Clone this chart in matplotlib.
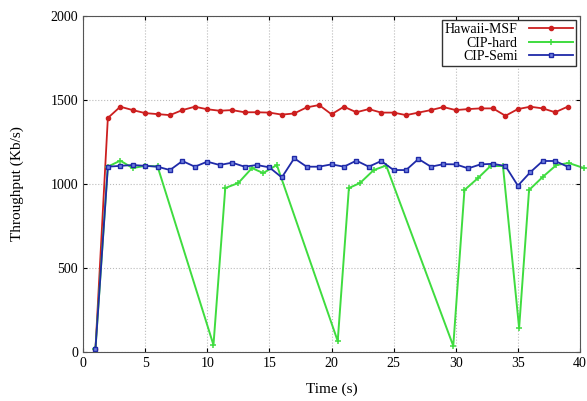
import numpy as np
import matplotlib
matplotlib.use('Agg')
import matplotlib.pyplot as plt

plt.rcParams['font.family'] = ['Liberation Serif', 'DejaVu Serif']

# sample times (s)
t = np.arange(1, 40)

# Hawaii-MSF throughput (Kb/s)
msf = [15, 1393, 1460, 1440, 1422, 1416, 1410, 1440, 1460, 1445,
       1436, 1440, 1427, 1427, 1425, 1413, 1420, 1456, 1470, 1415,
       1460, 1427, 1446, 1425, 1425, 1410, 1425, 1440, 1458, 1440,
       1446, 1450, 1450, 1406, 1446, 1460, 1450, 1427, 1460]

# CIP-Semi throughput (Kb/s)
semi = [15, 1103, 1108, 1113, 1108, 1103, 1083, 1137, 1103, 1133,
        1113, 1127, 1103, 1113, 1099, 1039, 1153, 1103, 1103, 1117,
        1103, 1139, 1103, 1137, 1083, 1083, 1149, 1103, 1118, 1117,
        1093, 1117, 1120, 1107, 990, 1070, 1137, 1137, 1103]

# CIP-hard: irregular sample times
t_hard = [1, 2, 3, 4, 5, 6, 10.5, 11.45, 12.5, 13.6, 14.5, 15.6,
          20.5, 21.4, 22.3, 23.4, 24.4, 29.8, 30.7, 31.8, 32.8, 33.8,
          35.1, 35.9, 37.0, 38.1, 39.1, 40.3]
hard = [15, 1103, 1139, 1095, 1108, 1105, 42, 976, 1006, 1095, 1065, 1113,
        65, 976, 1006, 1083, 1110, 36, 964, 1036, 1107, 1107,
        143, 964, 1042, 1113, 1125, 1095]

fig = plt.figure(figsize=(5.87, 4.01), dpi=100)
ax = fig.add_axes([83/587, 1-352/401, (580-83)/587, (352-16)/401])

ax.plot(t, msf, '-o', color='#cc1f1f', ms=3, lw=1.3, label='Hawaii-MSF')
ax.plot(t_hard, hard, '-+', color='#3fdc3f', ms=4.5, mew=1.1, lw=1.4,
        label='CIP-hard', clip_on=False)
ax.plot(t, semi, '-s', color='#1f2aa8', ms=3.5, mfc='#6f7fe0', mew=1.0, lw=1.3,
        label='CIP-Semi')

ax.set_xlim(0, 40)
ax.set_ylim(0, 2000)
ax.set_xticks(range(0, 41, 5))
ax.set_yticks(range(0, 2001, 500))
ax.grid(True, linestyle=':', color='#bbbbbb', lw=0.8)
ax.tick_params(direction='in', top=True, right=True, labelsize=10, length=3)
for s in ax.spines.values():
    s.set_color('#555555')

ax.set_xlabel('Time (s)', fontsize=11)
ax.set_ylabel('Throughput (Kb/s)', fontsize=11)
ax.yaxis.set_label_coords(-0.118, 0.5)
ax.xaxis.set_label_coords(0.5, -0.09)

leg = ax.legend(loc='upper right', markerfirst=False, fontsize=10, fancybox=False,
                framealpha=1, edgecolor='#333333', borderpad=0.2,
                labelspacing=0.05, handlelength=3.2, borderaxespad=0.3)
leg.get_frame().set_linewidth(1.0)

fig.savefig('out.png', dpi=100)
